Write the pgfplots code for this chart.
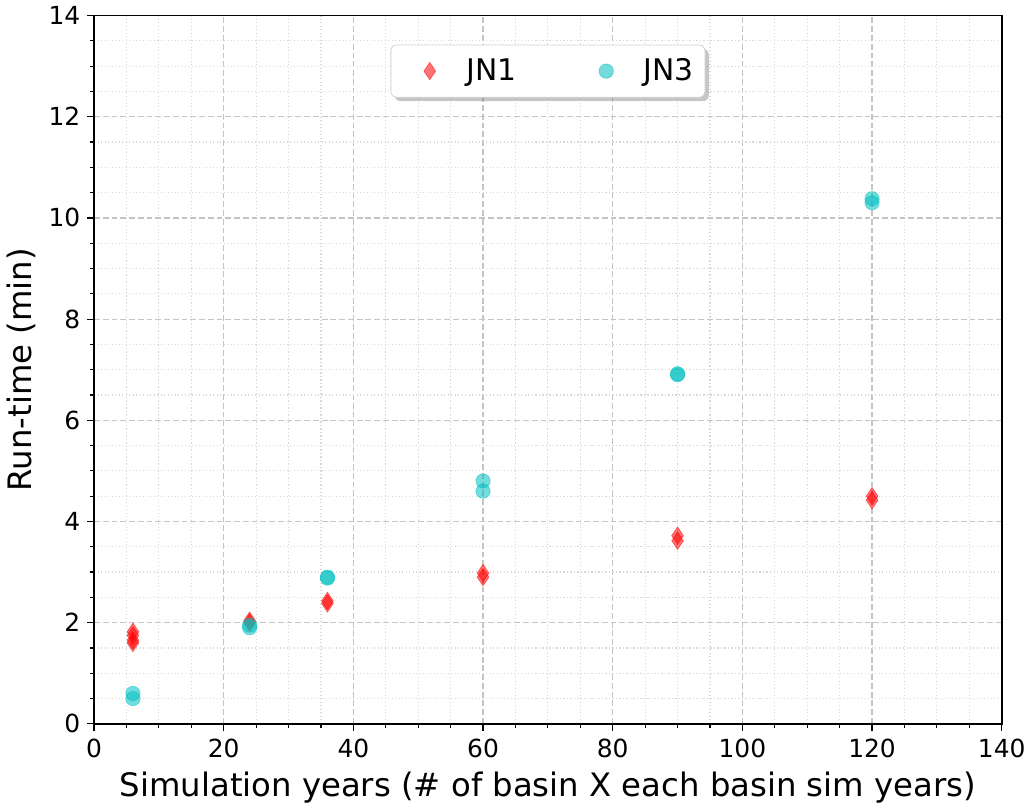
\documentclass[border=0pt]{standalone}
\usepackage{fontspec}
\setmainfont{DejaVu Sans}
\usepackage{pgfplots}
\pgfplotsset{compat=1.18}
\usetikzlibrary{shadows}

\definecolor{jnred}{rgb}{1,0,0}
\definecolor{jncyan}{rgb}{0,0.75,0.75}
\definecolor{gridmaj}{HTML}{C4C4C4}
\definecolor{gridmin}{HTML}{D8D8D8}

% wider legend cell: invisible box sets the width, marker sits at 16pt
\pgfplotsset{
  wideleg/.style={legend image code/.code={%
    \pgfpathrectangle{\pgfqpoint{0pt}{-1pt}}{\pgfqpoint{33pt}{2pt}}\pgfusepath{discard}%
    \draw[mark repeat=2, mark phase=2, ##1]
    plot coordinates {(0pt,0pt) (16pt,0pt) (33pt,0pt)};}},
}

\begin{document}
\begin{tikzpicture}
\begin{axis}[
  width=466.5pt, height=364pt, scale only axis,
  xmin=0, xmax=140, ymin=0, ymax=14,
  xtick distance=20, ytick distance=2,
  minor x tick num=3, minor y tick num=3,
  grid=both,
  major grid style={dash pattern=on 3pt off 1.5pt, gridmaj, line width=0.6pt},
  minor grid style={dash pattern=on 0.6pt off 1.2pt, gridmin, line width=0.6pt},
  tick align=outside, xtick pos=left, ytick pos=left,
  major tick length=3.5pt, minor tick length=2pt,
  every tick/.style={black, line width=0.6pt},
  axis line style={line width=0.8pt},
  /pgf/number format/assume math mode=true,
  ticklabel style={font=\fontsize{12.8}{15}\selectfont},
  xticklabel style={yshift=-1pt},
  label style={font=\fontsize{16.6}{19}\selectfont},
  xlabel={Simulation years (\# of basin X each basin sim years)},
  ylabel={Run-time (min)},
  legend columns=2,
  legend style={at={(0.5,0.959)}, anchor=north, draw=gray!35, rounded corners=3pt,
    fill=white, drop shadow={shadow xshift=2pt, shadow yshift=-2pt, opacity=0.45},
    font=\fontsize{15.3}{18}\selectfont, inner xsep=4pt, inner ysep=5pt,
    /tikz/every even column/.append style={column sep=28pt}},
]
\addplot[only marks, mark=diamond*, mark size=4.5pt, wideleg,
  mark options={xscale=0.9, fill=jnred, draw=jnred, line width=0.3pt, fill opacity=0.55, draw opacity=0.55}]
  coordinates {(6,1.6) (6,1.65) (6,1.75) (6,1.82) (24,2.0) (24,2.04) (36,2.38) (36,2.43)
               (60,2.9) (60,2.98) (90,3.62) (90,3.72) (120,4.42) (120,4.5)};
\addlegendentry{JN1}
\addplot[only marks, mark=*, mark size=3.7pt, wideleg,
  mark options={fill=jncyan, draw=jncyan, line width=0.3pt, fill opacity=0.55, draw opacity=0.55}]
  coordinates {(6,0.5) (6,0.6) (24,1.9) (24,1.95) (36,2.88) (36,2.9)
               (60,4.6) (60,4.8) (90,6.9) (90,6.92) (120,10.3) (120,10.38)};
\addlegendentry{JN3}
\end{axis}
\end{tikzpicture}
\end{document}
